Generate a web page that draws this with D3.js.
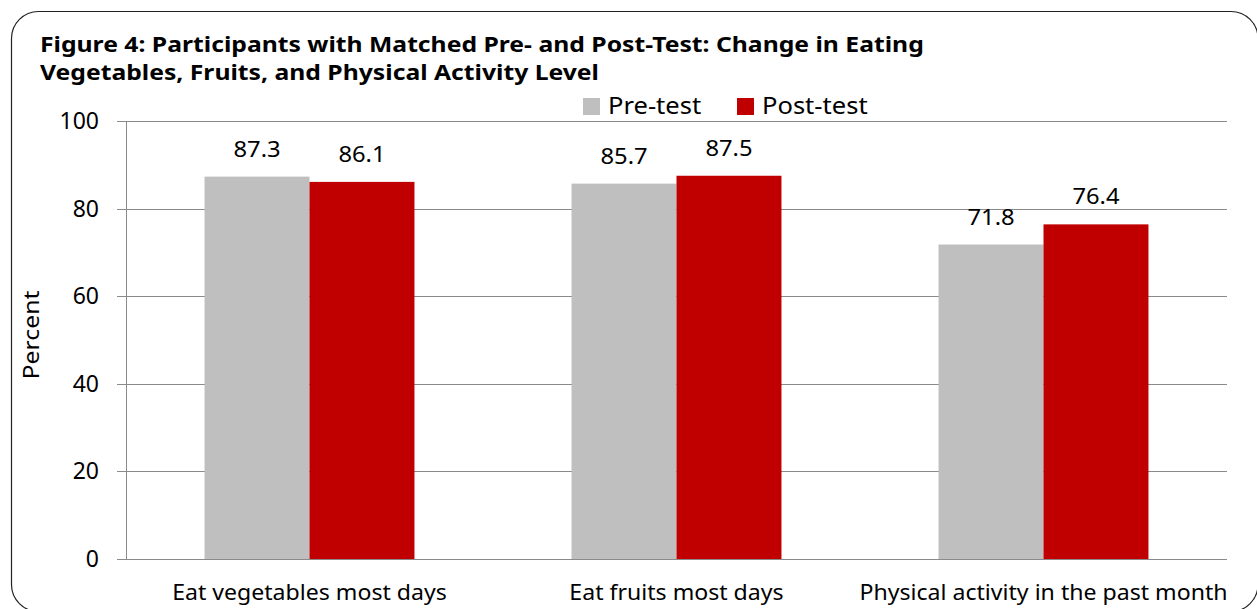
<!DOCTYPE html>
<html><head><meta charset="utf-8">
<script src="https://cdn.jsdelivr.net/npm/d3@7"></script>
<style>body{margin:0;background:#fff}svg{display:block}text{font-family:"Noto Sans",sans-serif;fill:#000}</style>
</head><body>
<svg id="c" width="1257" height="609"></svg>
<script>
const categories = ["Eat vegetables most days", "Eat fruits most days", "Physical activity in the past month"];
const seriesNames = ["Pre-test", "Post-test"];
const preTest = [87.3, 85.7, 71.8];
const postTest = [86.1, 87.5, 76.4];
const yTicks = [0, 20, 40, 60, 80, 100];
const titleLines = ["Figure 4: Participants with Matched Pre- and Post-Test: Change in Eating", "Vegetables, Fruits, and Physical Activity Level"];
const colors = ["#BFBFBF", "#C00000"];

const svg = d3.select("#c");
// stretch text horizontally (reference glyphs are wider than tall)
function stretch(sel, sx) {
  sel.each(function() {
    const w = this.getComputedTextLength();
    d3.select(this).attr("textLength", w * sx).attr("lengthAdjust", "spacingAndGlyphs");
  });
}

svg.append("rect").attr("x", 11.5).attr("y", 11.5).attr("width", 1246.5).attr("height", 600)
  .attr("rx", 27).attr("fill", "#fff").attr("stroke", "#222").attr("stroke-width", 1.2);

const L = 126, R = 1227, T = 121, B = 559;
const x0 = d3.scaleBand().domain(categories).range([L, R]).paddingInner(0.428).paddingOuter(0.214);
const x1 = d3.scaleBand().domain(seriesNames).range([0, x0.bandwidth()]);
const y = d3.scaleLinear().domain([0, 100]).range([B, T]);

// gridlines
svg.append("g").selectAll("line").data(yTicks).join("line")
  .attr("x1", L - 9).attr("x2", R).attr("y1", d => Math.round(y(d)) + 0.5).attr("y2", d => Math.round(y(d)) + 0.5)
  .attr("stroke", "#8a8a8a").attr("stroke-width", 1);
svg.append("line").attr("x1", L + 0.5).attr("x2", L + 0.5).attr("y1", T).attr("y2", B).attr("stroke", "#8a8a8a");

// y tick labels
svg.append("g").selectAll("text").data(yTicks).join("text")
  .attr("x", 99).attr("y", d => y(d) + 8).attr("text-anchor", "end").attr("font-size", 23).text(d => d);

const pct = svg.append("text").attr("transform", "translate(39,335) rotate(-90)").attr("text-anchor", "middle")
  .attr("font-size", 21).text("Percent");
stretch(pct, 1.18);

const data = categories.map((c, i) => ({c, vals: [preTest[i], postTest[i]]}));
const g = svg.append("g").selectAll("g").data(data).join("g").attr("transform", d => `translate(${x0(d.c)},0)`);
g.selectAll("rect").data(d => d.vals.map((v, j) => ({v, s: seriesNames[j], j}))).join("rect")
  .attr("x", d => x1(d.s)).attr("width", x1.bandwidth())
  .attr("y", d => y(d.v)).attr("height", d => B - y(d.v)).attr("fill", d => colors[d.j]);
const dl = g.selectAll("text").data(d => d.vals.map((v, j) => ({v, s: seriesNames[j], j}))).join("text")
  .attr("x", d => x1(d.s) + x1.bandwidth() / 2).attr("y", d => y(d.v) - 20)
  .attr("text-anchor", "middle").attr("font-size", 22).text(d => d.v.toFixed(1));
stretch(dl, 1.08);

// category labels
const cl = svg.append("g").selectAll("text").data(categories).join("text")
  .attr("x", d => x0(d) + x0.bandwidth() / 2).attr("y", 600).attr("text-anchor", "middle")
  .attr("font-size", 21).text(d => d);
stretch(cl, 1.10);

// title
const tl = svg.append("g").selectAll("text").data(titleLines).join("text")
  .attr("x", 40).attr("y", (d, i) => 52 + i * 28).attr("font-size", 22).attr("font-weight", "bold").text(d => d);
stretch(tl, 1.123);

// legend
const lg = svg.append("g");
const legX = [583, 737];
seriesNames.forEach((s, i) => {
  lg.append("rect").attr("x", legX[i]).attr("y", 98).attr("width", 17).attr("height", 17).attr("fill", colors[i]);
  const t = lg.append("text").attr("x", legX[i] + 25).attr("y", 114).attr("font-size", 23).text(s);
  stretch(t, 1.11);
});
</script>
</body></html>
